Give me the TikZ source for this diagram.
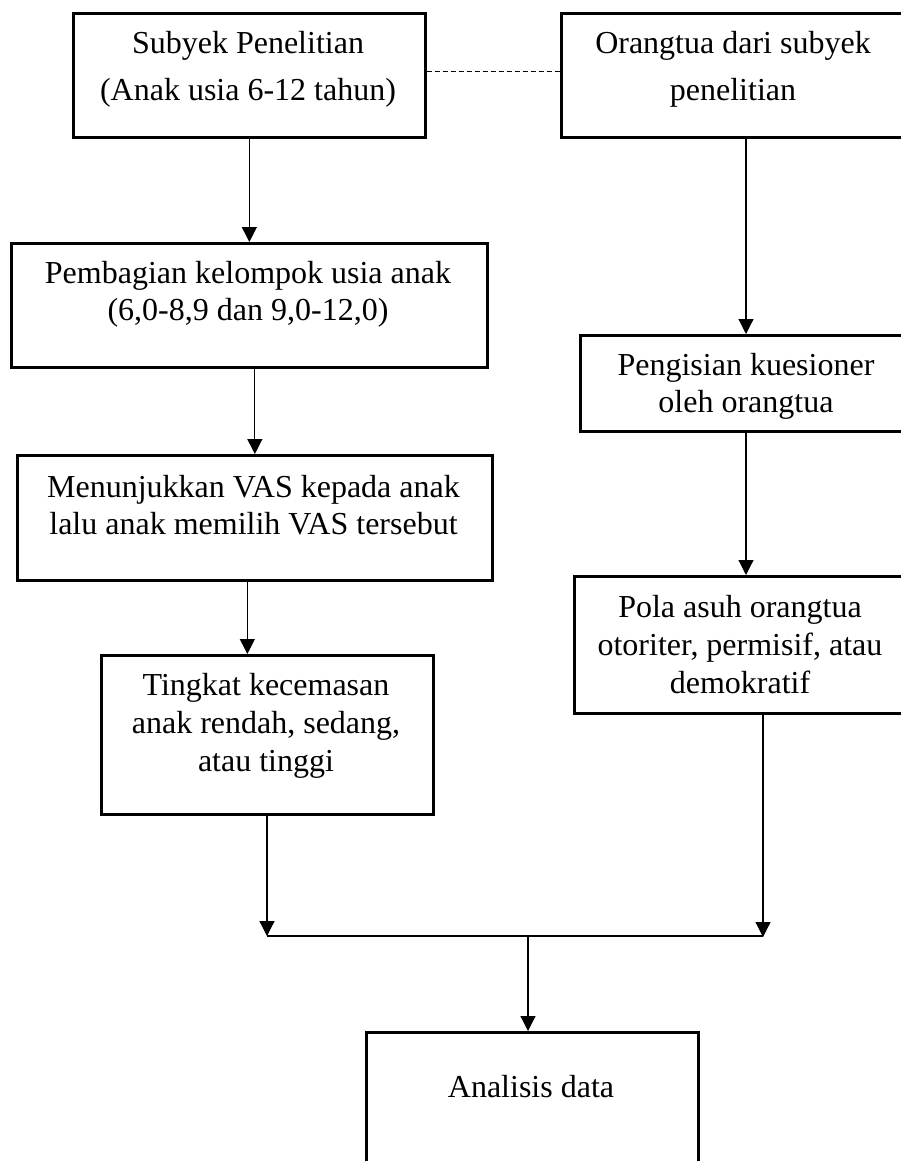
\documentclass[tikz,border=0pt]{standalone}
\usepackage{fontspec}
\setmainfont{Liberation Serif}
\usetikzlibrary{arrows.meta,calc}
\newcommand\firststrut{\rule{0pt}{26pt}}
\begin{document}
\begin{tikzpicture}[x=1pt,y=-1pt,
  box/.style={draw, line width=2.7pt, rectangle, inner sep=0pt, anchor=north west},
  txt/.style={align=center, inner sep=0pt, anchor=north, font=\fontsize{32}{37.5}\selectfont},
  txtwide/.style={txt, font=\fontsize{32}{47}\selectfont},
  arr/.style={line width=1.2pt, -{Triangle[length=15pt,width=15pt]}},
  ln/.style={line width=1.2pt},
  dashln/.style={line width=1.2pt, dash pattern=on 5pt off 3pt}]
\useasboundingbox (0,0) rectangle (901,1161);
\clip (0,0) rectangle (901,1161);

% boxes
\node[box, minimum width=352pt, minimum height=124pt] (b1) at (72,12) {};
\node[box, minimum width=360pt, minimum height=124pt] (b2) at (560,12) {};
\node[box, minimum width=476pt, minimum height=124pt] (b3) at (10,242) {};
\node[box, minimum width=475pt, minimum height=125pt] (b4) at (16,454) {};
\node[box, minimum width=332pt, minimum height=159pt] (b5) at (100,654) {};
\node[box, minimum width=341pt, minimum height=96pt] (b6) at (579,334) {};
\node[box, minimum width=347pt, minimum height=137pt] (b7) at (573,575) {};
\node[box, minimum width=332pt, minimum height=160pt] (b8) at (365,1031) {};

% texts
\node[txtwide] (t1) at (248,27) {\firststrut Subyek Penelitian\\(Anak usia 6-12 tahun)};
\node[txtwide] (t2) at (733,27) {\firststrut Orangtua dari subyek\\penelitian};
\node[txt] (t3) at (248,257) {\firststrut Pembagian kelompok usia anak\\(6,0-8,9 dan 9,0-12,0)};
\node[txt] (t4) at (253.5,471) {\firststrut Menunjukkan VAS kepada anak\\lalu anak memilih VAS tersebut};
\node[txt, font=\fontsize{32}{38}\selectfont] (t5) at (266,669) {\firststrut Tingkat kecemasan\\anak rendah, sedang,\\atau tinggi};
\node[txt] (t6) at (746,349) {\firststrut Pengisian kuesioner\\oleh orangtua};
\node[txt, font=\fontsize{32}{38}\selectfont] (t7) at (740,591) {\firststrut Pola asuh orangtua\\otoriter, permisif, atau\\demokratif};
\node[txt] (t8) at (531,1071) {\firststrut Analisis data};

% junction points
\coordinate (jl) at (267,936);
\coordinate (jr) at (763,937);
\coordinate (jm) at (528,936);
\coordinate (p4) at ($(b4.south)+(-7.5,0)$);

% connectors
\draw[dashln] ($(b1.east)+(0,-4)$) -- ($(b2.west)+(0,-4)$);
\draw[arr] (b1.south) -- (b1.south |- b3.north);
\draw[arr] (b2.south -| t6.north) -- (b6.north -| t6.north);
\draw[arr] (b3.south -| b4.north) -- (b4.north);
\draw[arr] (p4) -- (p4 |- b5.north);
\draw[arr] (b6.south -| t6.north) -- (b7.north -| t6.north);
\draw[arr] (b5.south -| jl) -- (jl);
\draw[arr] (b7.south -| jr) -- (jr);
\draw[ln] (jl) -- (jl -| jr);
\draw[arr] (jm) -- (jm |- b8.north);
\end{tikzpicture}
\end{document}
